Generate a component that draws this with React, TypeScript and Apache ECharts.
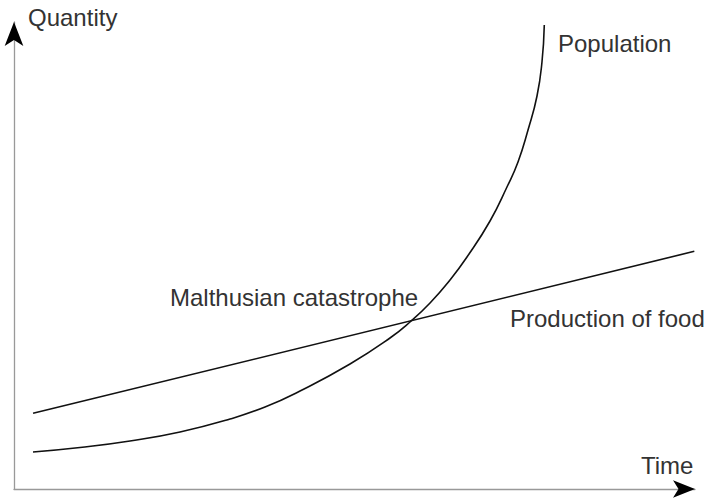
import React, { useEffect, useRef } from "react";
import * as echarts from "echarts";

// Time (x) and quantity (y), both on a 0–100 scale
const foodTime = [2.8, 99.9];
const foodQty = [16.2, 50.9];

const popTime = [2.79, 9.69, 17.03, 24.38, 31.72, 36.86, 42.0, 49.34, 55.21, 58.15, 61.09, 64.02, 66.52, 69.9, 72.39, 74.01, 75.48, 76.8, 77.53, 77.87];
const popQty = [7.92, 8.89, 10.28, 12.21, 14.99, 17.56, 20.99, 26.77, 32.33, 35.76, 39.83, 44.75, 49.68, 57.39, 64.67, 70.02, 76.87, 84.15, 91.43, 99.36];

const axisLabels = { y: "Quantity", x: "Time" };
const seriesLabels = { pop: "Population", food: "Production of food", cross: "Malthusian catastrophe" };

const FONT = "'Liberation Sans', Arial, sans-serif";
const TEXT = "#333";

export default function App() {
  const ref = useRef<HTMLDivElement>(null);
  useEffect(() => {
    if (!ref.current) return;
    const chart = echarts.init(ref.current, null, { renderer: "svg" });
    const hidden = {
      axisTick: { show: false },
      axisLabel: { show: false },
      splitLine: { show: false },
    };
    const txt = (text: string, x: number, y: number) => ({
      type: "text",
      x,
      y,
      style: { text, fill: TEXT, fontSize: 24, fontFamily: FONT, align: "left", verticalAlign: "middle" },
    });
    chart.setOption({
      animation: false,
      grid: { left: 14, right: 12, top: 22, bottom: 10 },
      xAxis: [
        { type: "value", min: 0, max: 100, position: "bottom", axisLine: { show: true, onZero: false, lineStyle: { color: "#999", width: 1.3 } }, ...hidden },
        { type: "value", min: 0, max: 100, position: "bottom", axisLine: { show: true, onZero: false, symbol: ["none", "arrow"], symbolSize: [13, 22], lineStyle: { color: "#000", width: 0 } }, ...hidden },
      ],
      yAxis: [
        { type: "value", min: 0, max: 100, position: "left", axisLine: { show: true, onZero: false, lineStyle: { color: "#999", width: 1.3 } }, ...hidden },
        { type: "value", min: 0, max: 100, position: "left", axisLine: { show: true, onZero: false, symbol: ["none", "arrow"], symbolSize: [14, 24], lineStyle: { color: "#000", width: 0 } }, ...hidden },
      ],
      series: [
        {
          type: "line",
          data: popTime.map((t, i) => [t, popQty[i]]),
          smooth: 0.5,
          showSymbol: false,
          lineStyle: { color: "#111", width: 1.6 },
        },
        {
          type: "line",
          data: foodTime.map((t, i) => [t, foodQty[i]]),
          showSymbol: false,
          lineStyle: { color: "#111", width: 1.6 },
        },
      ],
      graphic: [
        txt(axisLabels.y, 28, 17),
        txt(axisLabels.x, 641, 465),
        txt(seriesLabels.pop, 558, 43),
        txt(seriesLabels.food, 510, 318),
        txt(seriesLabels.cross, 170, 297),
      ],
    });
    return () => chart.dispose();
  }, []);
  return <div ref={ref} style={{ width: 707, height: 499, position: "absolute", left: 0, top: 0 }} />;
}
